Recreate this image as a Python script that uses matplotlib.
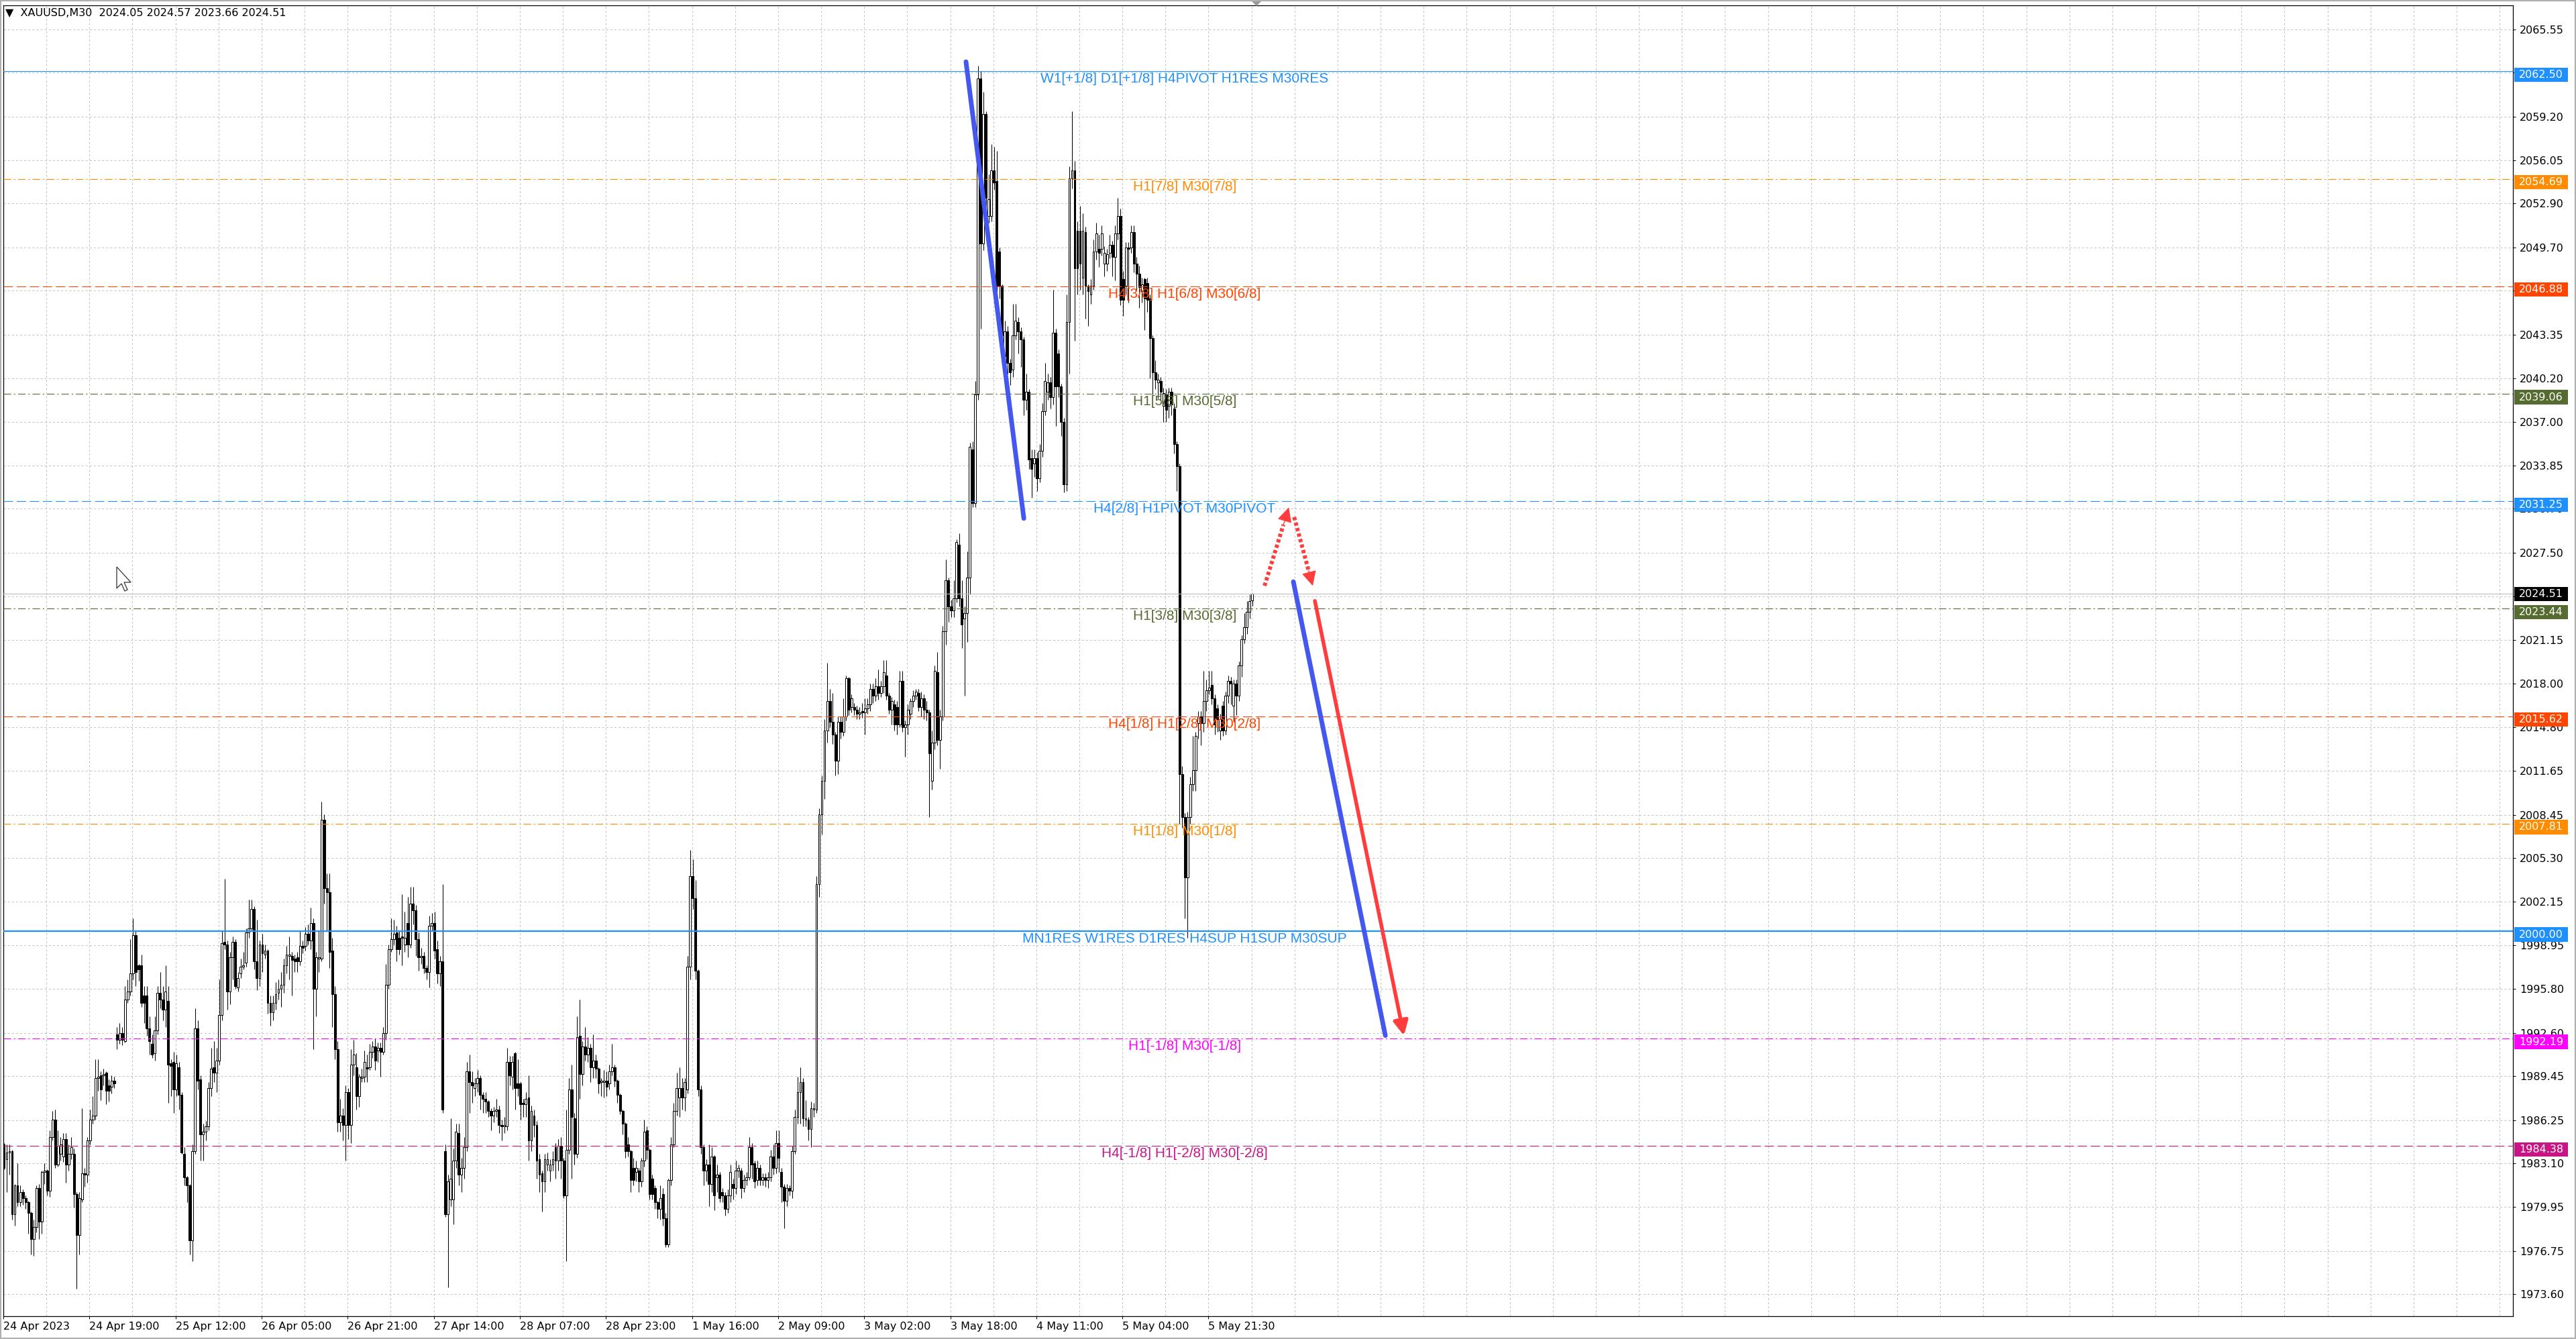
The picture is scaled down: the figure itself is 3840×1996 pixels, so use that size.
import numpy as np
import matplotlib
matplotlib.use('Agg')
import matplotlib.pyplot as plt
import matplotlib.transforms as mtransforms
from matplotlib.patches import Rectangle, Polygon

plt.rcParams['lines.scale_dashes'] = False

# ---- XAUUSD M30 candles ----
opens = [
    1984.5, 1983.4, 1983.9, 1984.0, 1979.4, 1981.5, 1980.3, 1981.0, 1980.6, 1980.3,
    1979.5, 1977.6, 1978.5, 1981.3, 1978.9, 1982.5, 1982.6, 1981.1, 1985.0, 1986.3,
    1983.0, 1983.8, 1983.6, 1984.9, 1983.0, 1983.8, 1983.8, 1980.9, 1977.9, 1980.5,
    1982.4, 1982.3, 1984.8, 1986.3, 1986.6, 1989.3, 1989.5, 1989.5, 1989.7, 1988.8,
    1988.7, 1989.1, 1992.5, 1992.1, 1992.6, 1992.0, 1995.0, 1995.6, 1996.9, 1999.7,
    1997.5, 1997.5, 1995.3, 1995.3, 1992.9, 1991.8, 1991.1, 1992.8, 1995.5, 1995.0,
    1994.3, 1994.9, 1990.4, 1990.5, 1988.5, 1990.1, 1988.1, 1983.8, 1982.1, 1981.5,
    1977.5, 1984.0, 1992.9, 1989.2, 1985.2, 1985.4, 1985.8, 1988.6, 1990.1, 1989.7,
    1990.6, 1993.9, 1999.2, 1999.0, 1995.6, 1998.1, 1999.2, 1995.9, 1996.9, 1997.4,
    1997.7, 1999.9, 2000.2, 2001.6, 1997.8, 1996.6, 1999.0, 1998.3, 1998.6, 1994.8,
    1994.1, 1994.8, 1995.5, 1995.8, 1996.1, 1997.5, 1998.2, 1998.2, 1998.0, 1998.1,
    1997.8, 1998.9, 1998.9, 1999.8, 1999.3, 2000.6, 1995.8, 1998.0, 1998.0, 2008.1,
    2003.1, 2002.8, 1998.6, 1995.4, 1991.4, 1986.1, 1986.6, 1985.9, 1988.3, 1985.9,
    1990.3, 1990.1, 1988.0, 1989.3, 1989.4, 1990.1, 1990.1, 1991.2, 1991.6, 1991.3,
    1991.5, 1991.2, 1992.6, 1996.1, 1998.7, 1999.4, 1999.9, 1999.5, 1999.6, 1999.0,
    2000.6, 1999.0, 2002.0, 2001.5, 1999.4, 1998.1, 1998.2, 1997.3, 1997.0, 2000.4,
    2000.6, 1998.7, 1996.9, 1997.8, 1984.0, 1979.4, 1980.5, 1980.5, 1983.3, 1985.3,
    1982.3, 1982.8, 1984.3, 1989.8, 1989.0, 1988.6, 1988.9, 1989.3, 1988.1, 1987.8,
    1987.6, 1986.9, 1986.6, 1986.9, 1987.0, 1985.9, 1985.8, 1985.8, 1990.5, 1989.4,
    1991.1, 1988.9, 1988.9, 1987.5, 1987.4, 1987.9, 1984.8, 1986.6, 1985.9, 1983.4,
    1982.4, 1981.8, 1983.0, 1982.6, 1983.0, 1984.3, 1983.3, 1984.4, 1983.3, 1980.8,
    1984.1, 1988.5, 1986.4, 1983.8, 1992.4, 1989.6, 1991.6, 1991.0, 1991.5, 1990.1,
    1990.6, 1990.0, 1989.0, 1989.0, 1989.1, 1988.9, 1989.8, 1990.1, 1989.1, 1988.1,
    1986.9, 1986.0, 1984.5, 1984.0, 1982.8, 1982.5, 1982.6, 1981.8, 1983.3, 1985.5,
    1984.1, 1982.0, 1981.3, 1980.3, 1979.8, 1980.9, 1979.1, 1977.2, 1981.9, 1984.5,
    1986.9, 1987.9, 1988.6, 1987.9, 1988.5, 1997.4, 2004.0, 2002.4, 1997.1, 1988.5,
    1984.3, 1982.6, 1983.0, 1981.6, 1983.6, 1982.1, 1982.3, 1981.0, 1980.8, 1979.8,
    1980.8, 1981.6, 1981.3, 1982.6, 1982.6, 1981.3, 1981.9, 1982.1, 1984.3, 1983.1,
    1981.9, 1982.8, 1981.9, 1982.1, 1981.9, 1982.1, 1983.6, 1982.8, 1984.6, 1982.5,
    1981.4, 1980.4, 1981.3, 1981.1, 1984.0, 1986.5, 1988.3, 1989.0, 1986.3, 1986.3,
    1985.6, 1987.0, 1987.0, 2003.4, 2008.5, 2010.9, 2014.6, 2016.7, 2015.2, 2014.3,
    2012.4, 2015.2, 2014.5, 2015.6, 2018.4, 2016.3, 2016.3, 2016.1, 2015.8, 2016.0,
    2015.9, 2016.2, 2016.5, 2017.6, 2017.1, 2017.8, 2017.3, 2017.8, 2018.6, 2017.1,
    2016.1, 2016.5, 2016.3, 2015.0, 2018.2, 2014.8, 2015.0, 2015.8, 2016.7, 2017.1,
    2017.3, 2016.3, 2016.9, 2016.1, 2015.9, 2010.9, 2013.7, 2018.8, 2013.9, 2015.6,
    2021.8, 2025.5, 2023.6, 2023.3, 2024.2, 2028.1, 2024.2, 2022.7, 2023.1, 2025.7,
    2035.0, 2031.1, 2039.0, 2062.0, 2050.0, 2059.4, 2052.0, 2052.0, 2055.3, 2054.5,
    2049.4, 2046.9, 2041.8, 2043.6, 2041.3, 2040.8, 2043.3, 2044.3, 2043.6, 2043.0,
    2038.6, 2039.2, 2034.4, 2034.0, 2034.4, 2032.9, 2034.9, 2037.8, 2039.2, 2039.9,
    2038.8, 2043.5, 2042.0, 2039.6, 2037.0, 2032.5, 2044.3, 2054.7, 2055.3, 2050.9,
    2050.9, 2047.5, 2050.8, 2046.9, 2046.3, 2046.9, 2049.4,
    2049.6, 2049.6, 2048.5, 2048.5, 2049.3, 2049.9, 2049.0, 2050.7, 2052.0,
    2047.4, 2046.9, 2049.7, 2049.7, 2050.8, 2048.5, 2047.8, 2046.5, 2047.4, 2047.1,
    2046.0, 2043.1, 2040.6, 2039.9, 2040.0, 2038.2, 2039.0, 2038.2, 2039.2, 2038.0,
    2035.4, 2033.8, 2011.4, 2008.3, 2003.9, 2008.3, 2010.7, 2011.7, 2015.1, 2015.6,
    2015.1, 2016.7, 2017.5, 2017.9, 2016.9, 2016.2, 2014.6, 2016.4, 2014.6, 2017.1,
    2018.2, 2016.4, 2018.0, 2017.1, 2019.3, 2021.2, 2022.1, 2023.2, 2024.05,
]
highs = [
    1984.6, 1984.5, 1984.5, 1984.1, 1981.6, 1983.1, 1981.5, 1981.2, 1980.8, 1980.4,
    1979.6, 1979.0, 1981.5, 1981.6, 1982.6, 1983.1, 1982.7, 1985.5, 1986.9, 1987.0,
    1985.5, 1985.0, 1985.3, 1985.3, 1984.5, 1985.0, 1984.2, 1981.0, 1981.0, 1987.1,
    1982.8, 1985.0, 1987.0, 1988.0, 1990.7, 1990.7, 1989.8, 1990.0, 1989.8, 1989.2,
    1989.5, 1989.4, 1993.0, 1993.3, 1993.0, 1996.0, 1996.5, 1999.4, 2000.9, 2000.0,
    1997.6, 1998.3, 1996.0, 1996.0, 1993.8, 1992.5, 1993.8, 1996.0, 1997.0, 1996.0,
    1997.5, 1996.0, 1990.7, 1991.2, 1991.0, 1990.5, 1988.3, 1984.3, 1982.2, 1981.6,
    1984.5, 1994.4, 1993.5, 1989.5, 1986.0, 1986.2, 1989.0, 1991.5, 1992.0, 1991.5,
    1996.5, 2000.0, 2003.8, 1999.3, 1998.5, 1999.6, 1999.4, 1997.0, 1998.0, 1998.5,
    2000.2, 2002.3, 2002.3, 2001.8, 2000.8, 1999.3, 1999.8, 1999.0, 1998.7, 1995.3,
    1995.3, 1996.3, 1996.5, 1997.0, 1998.0, 1998.9, 1999.6, 1998.5, 1998.3, 1998.5,
    2000.0, 1999.3, 2000.3, 2000.5, 2001.7, 2000.9, 1998.5, 2000.0, 2009.4, 2008.5,
    2004.2, 2004.2, 1999.5, 1996.0, 1992.0, 1987.8, 1987.1, 1988.8, 1988.6, 1991.4,
    1992.1, 1991.1, 1989.6, 1990.0, 1991.3, 1991.0, 1991.8, 1992.0, 1992.2, 1991.9,
    1991.9, 1993.0, 1997.6, 1999.0, 2000.9, 2000.8, 2000.4, 2000.0, 2002.7, 2001.4,
    2002.5, 2003.2, 2003.2, 2001.9, 1999.9, 1998.8, 1998.5, 1997.5, 2001.1, 2001.3,
    2001.4, 1999.3, 1998.2, 2003.4, 1984.5, 1982.3, 1986.4, 1984.2, 1986.0, 1986.0,
    1983.5, 1985.0, 1990.5, 1991.0, 1989.8, 1989.3, 1989.9, 1989.5, 1988.3, 1988.3,
    1987.7, 1987.1, 1987.2, 1987.8, 1987.3, 1986.3, 1986.5, 1991.5, 1990.9, 1990.9,
    1991.2, 1990.7, 1989.0, 1987.8, 1988.3, 1989.5, 1987.3, 1987.0, 1986.2, 1983.8,
    1982.6, 1983.8, 1983.9, 1983.4, 1984.0, 1984.6, 1984.9, 1985.0, 1983.5, 1987.0,
    1989.3, 1990.3, 1986.8, 1993.8, 1995.0, 1992.0, 1993.0, 1992.3, 1991.8, 1992.5,
    1991.0, 1990.1, 1989.3, 1989.9, 1989.8, 1990.3, 1991.8, 1990.3, 1989.2, 1988.2,
    1987.0, 1986.1, 1985.0, 1984.1, 1983.5, 1983.3, 1982.8, 1983.5, 1986.3, 1985.8,
    1984.2, 1982.3, 1981.5, 1980.4, 1981.5, 1981.3, 1979.5, 1982.0, 1985.0, 1987.5,
    1989.7, 1990.1, 1989.3, 1989.3, 1998.2, 2005.9, 2005.2, 2003.7, 1997.2, 1988.8,
    1984.5, 1983.4, 1984.5, 1984.3, 1983.7, 1983.0, 1982.5, 1981.3, 1981.0, 1981.2,
    1983.0, 1982.0, 1983.3, 1983.0, 1982.8, 1982.3, 1982.5, 1985.0, 1984.6, 1983.3,
    1983.3, 1983.0, 1982.4, 1982.4, 1982.5, 1984.1, 1984.5, 1985.5, 1985.5, 1982.8,
    1981.6, 1981.6, 1981.5, 1984.4, 1987.0, 1989.4, 1990.1, 1989.3, 1987.7, 1986.5,
    1987.6, 1987.5, 2004.0, 2008.9, 2011.3, 2015.4, 2019.5, 2017.6, 2017.3, 2014.5,
    2015.6, 2015.6, 2016.9, 2018.6, 2018.5, 2017.2, 2016.6, 2016.4, 2016.3, 2016.6,
    2016.9, 2016.9, 2018.0, 2018.0, 2018.4, 2019.0, 2018.2, 2019.7, 2019.7, 2017.3,
    2017.0, 2016.8, 2016.7, 2018.9, 2018.9, 2015.3, 2016.5, 2016.9, 2017.5, 2017.6,
    2017.6, 2017.4, 2017.2, 2016.7, 2016.1, 2014.6, 2019.3, 2020.3, 2016.1, 2022.2,
    2027.0, 2025.7, 2024.1, 2025.5, 2028.5, 2028.9, 2025.5, 2023.6, 2027.6, 2035.5,
    2035.6, 2040.0, 2062.9, 2062.5, 2061.0, 2059.6, 2055.0, 2057.2, 2057.0, 2056.7,
    2049.7, 2047.0, 2044.4, 2044.0, 2041.6, 2045.6, 2045.6, 2044.6, 2043.9, 2043.2,
    2040.5, 2039.4, 2035.0, 2035.0, 2034.8, 2035.4, 2038.4, 2041.3, 2040.5, 2040.3,
    2046.6, 2043.8, 2042.3, 2039.8, 2037.3, 2046.3, 2055.6, 2059.6, 2056.0, 2051.6,
    2052.7, 2052.2, 2051.2, 2047.0, 2047.4, 2050.3, 2051.5,
    2050.6, 2051.3, 2049.8, 2049.6, 2050.6, 2050.2, 2051.3, 2053.3, 2052.5,
    2048.0, 2050.1, 2050.1, 2051.3, 2051.3, 2049.0, 2048.4, 2047.5, 2047.5, 2047.5,
    2046.3, 2043.3, 2041.5, 2040.5, 2040.3, 2039.5, 2039.4, 2039.5, 2039.5, 2038.4,
    2035.6, 2034.0, 2012.0, 2008.6, 2008.7, 2011.2, 2014.2, 2014.5, 2016.0, 2016.0,
    2018.9, 2018.3, 2018.9, 2018.9, 2017.2, 2016.5, 2015.8, 2016.7, 2017.4, 2018.6,
    2018.5, 2018.3, 2018.3, 2019.6, 2021.5, 2023.1, 2024.0, 2024.5, 2024.57,
]
lows = [
    1982.7, 1981.0, 1982.3, 1979.0, 1978.6, 1980.0, 1980.0, 1980.1, 1979.8, 1978.0,
    1976.5, 1976.4, 1978.1, 1977.6, 1978.0, 1981.6, 1980.8, 1980.7, 1984.8, 1982.8,
    1982.9, 1983.3, 1983.2, 1981.7, 1982.6, 1983.4, 1979.9, 1974.0, 1976.5, 1980.3,
    1981.4, 1981.7, 1984.5, 1986.0, 1986.3, 1988.4, 1987.7, 1988.8, 1987.4, 1987.6,
    1988.2, 1988.6, 1991.4, 1991.8, 1991.7, 1991.9, 1994.8, 1995.3, 1996.5, 1996.0,
    1996.4, 1994.5, 1993.3, 1992.4, 1991.0, 1990.8, 1990.6, 1992.5, 1994.4, 1993.5,
    1993.0, 1987.5, 1988.0, 1986.8, 1988.0, 1987.0, 1983.8, 1981.5, 1980.3, 1976.5,
    1976.0, 1983.8, 1988.5, 1983.3, 1983.3, 1984.8, 1985.5, 1988.0, 1989.0, 1988.3,
    1990.3, 1993.5, 1998.7, 1994.3, 1994.7, 1996.5, 1995.8, 1995.6, 1996.6, 1997.2,
    1997.4, 1999.5, 2000.0, 1997.2, 1995.7, 1996.0, 1997.0, 1998.0, 1994.0, 1993.1,
    1993.5, 1994.3, 1995.0, 1994.5, 1995.5, 1996.9, 1996.5, 1995.3, 1997.0, 1997.0,
    1997.5, 1998.4, 1998.6, 1999.0, 1998.7, 1991.4, 1993.8, 1997.0, 1997.8, 2002.0,
    2000.0, 1997.3, 1993.0, 1990.7, 1985.4, 1985.4, 1984.8, 1983.3, 1984.9, 1984.6,
    1989.5, 1987.0, 1987.2, 1989.0, 1989.0, 1989.0, 1989.9, 1990.8, 1989.9, 1990.5,
    1989.4, 1991.0, 1992.1, 1995.8, 1998.5, 1999.0, 1997.8, 1998.3, 1997.5, 1998.5,
    1998.1, 1998.8, 2000.5, 1998.2, 1997.1, 1997.6, 1996.9, 1996.5, 1995.9, 2000.0,
    1998.0, 1996.2, 1996.0, 1986.8, 1979.2, 1974.1, 1980.0, 1978.7, 1982.8, 1981.5,
    1981.0, 1982.0, 1984.0, 1986.8, 1987.5, 1988.0, 1988.3, 1987.0, 1986.8, 1986.8,
    1986.5, 1985.5, 1986.1, 1986.5, 1985.3, 1984.8, 1985.3, 1985.5, 1988.8, 1988.5,
    1987.0, 1988.0, 1986.3, 1986.5, 1986.5, 1983.3, 1984.0, 1985.0, 1982.0, 1981.0,
    1979.6, 1981.0, 1982.6, 1981.8, 1982.6, 1982.0, 1982.6, 1982.0, 1980.6, 1976.0,
    1983.8, 1982.0, 1983.0, 1983.5, 1987.8, 1988.8, 1990.6, 1990.5, 1989.0, 1989.3,
    1989.3, 1988.2, 1988.0, 1987.9, 1988.0, 1988.5, 1989.5, 1988.7, 1987.5, 1986.7,
    1985.2, 1983.5, 1983.6, 1981.0, 1981.5, 1981.8, 1981.0, 1981.4, 1982.9, 1983.4,
    1980.5, 1980.5, 1979.8, 1979.1, 1979.0, 1978.6, 1977.0, 1977.0, 1981.5, 1984.3,
    1986.6, 1986.5, 1987.0, 1986.9, 1988.2, 1996.5, 2001.6, 1996.5, 1988.0, 1983.8,
    1981.5, 1981.8, 1980.0, 1981.0, 1979.7, 1981.0, 1980.3, 1980.3, 1979.3, 1979.5,
    1980.3, 1980.5, 1980.9, 1982.1, 1980.6, 1981.0, 1981.5, 1981.9, 1982.0, 1981.3,
    1981.5, 1981.5, 1981.5, 1981.4, 1981.3, 1981.8, 1982.3, 1982.4, 1982.5, 1980.3,
    1978.4, 1980.0, 1980.8, 1980.6, 1983.8, 1986.0, 1986.0, 1985.8, 1985.8, 1984.8,
    1984.3, 1986.5, 1986.8, 2002.5, 2007.0, 2009.6, 2013.7, 2014.8, 2013.6, 2011.3,
    2011.4, 2014.0, 2014.2, 2015.3, 2015.7, 2015.9, 2015.7, 2015.4, 2015.4, 2015.5,
    2014.3, 2015.8, 2016.0, 2016.6, 2016.7, 2016.8, 2017.0, 2017.3, 2016.8, 2015.8,
    2015.0, 2014.6, 2014.3, 2014.8, 2014.5, 2012.7, 2014.3, 2015.4, 2016.3, 2016.8,
    2016.0, 2015.6, 2015.4, 2015.3, 2008.3, 2010.3, 2013.2, 2013.5, 2011.8, 2015.3,
    2020.8, 2022.5, 2022.8, 2022.8, 2023.9, 2023.6, 2020.6, 2017.1, 2021.0, 2024.5,
    2030.8, 2030.8, 2038.6, 2043.8, 2049.5, 2052.3, 2051.5, 2051.6, 2053.9, 2046.3,
    2046.0, 2042.5, 2041.5, 2040.5, 2039.7, 2040.3, 2043.0, 2042.0, 2041.0, 2037.5,
    2037.9, 2033.6, 2031.5, 2033.0, 2032.0, 2032.6, 2034.5, 2037.5, 2038.6, 2038.0,
    2038.3, 2036.7, 2038.8, 2036.0, 2031.9, 2032.0, 2040.5, 2054.0, 2042.9, 2046.3,
    2046.6, 2046.3, 2044.5, 2044.0, 2045.6, 2046.6, 2048.8,
    2048.3, 2049.1, 2047.6, 2048.0, 2048.9, 2047.6, 2047.3, 2050.3, 2045.5,
    2044.7, 2046.3, 2045.7, 2049.3, 2047.9, 2046.6, 2045.3, 2045.7, 2043.7, 2045.0,
    2040.2, 2039.0, 2039.4, 2038.7, 2038.6, 2037.0, 2037.0, 2037.3, 2037.5, 2034.7,
    2032.0, 2007.8, 2007.5, 2000.9, 1999.5, 2007.8, 2010.2, 2010.2, 2014.0, 2013.5,
    2014.5, 2016.0, 2017.2, 2016.5, 2014.3, 2014.5, 2013.9, 2014.2, 2014.3, 2016.6,
    2016.5, 2015.2, 2015.7, 2016.7, 2018.5, 2020.9, 2021.6, 2022.7, 2023.66,
]
closes = [
    1982.8, 1983.9, 1984.0, 1979.4, 1981.5, 1980.3, 1981.0, 1980.6, 1980.3, 1979.5,
    1977.6, 1978.5, 1981.3, 1978.9, 1982.5, 1982.6, 1981.1, 1985.0, 1986.3, 1983.0,
    1984.4, 1984.5, 1984.9, 1983.0, 1983.8, 1984.3, 1980.9, 1977.9, 1980.6, 1982.4,
    1982.3, 1984.8, 1986.3, 1986.6, 1989.3, 1989.4, 1988.5, 1989.6, 1988.4, 1988.4,
    1989.1, 1988.9, 1992.1, 1992.6, 1992.1, 1995.0, 1995.6, 1996.9, 1999.7, 1997.0,
    1997.2, 1994.8, 1994.8, 1992.9, 1992.0, 1991.0, 1992.8, 1995.5, 1995.0, 1994.3,
    1995.6, 1990.3, 1990.2, 1988.5, 1990.4, 1988.1, 1983.9, 1982.1, 1981.5, 1977.5,
    1984.0, 1992.9, 1989.1, 1985.2, 1985.4, 1985.8, 1988.6, 1990.0, 1989.7, 1990.6,
    1993.9, 1999.1, 1999.0, 1995.6, 1998.1, 1999.2, 1996.0, 1996.6, 1997.4, 1997.5,
    1999.9, 2000.2, 2001.6, 1997.8, 1996.6, 1999.0, 1998.4, 1998.6, 1994.8, 1994.1,
    1994.8, 1995.4, 1995.8, 1996.1, 1997.5, 1998.3, 1998.3, 1997.9, 1997.8, 1997.8,
    1998.9, 1998.8, 1999.8, 1999.3, 2000.6, 1995.8, 1998.1, 1998.1, 2008.1, 2003.1,
    2002.8, 1998.5, 1995.4, 1991.4, 1986.1, 1986.6, 1985.9, 1988.3, 1985.9, 1990.3,
    1991.0, 1988.0, 1989.4, 1989.4, 1990.5, 1990.0, 1991.2, 1991.6, 1990.6, 1991.5,
    1991.2, 1992.6, 1996.1, 1998.7, 1999.4, 1999.8, 1998.7, 1998.7, 1999.5, 1999.5,
    1999.0, 2002.0, 2001.5, 1999.4, 1998.1, 1998.2, 1997.3, 1997.0, 2000.4, 2000.6,
    1998.6, 1996.9, 1997.8, 1987.0, 1979.4, 1981.8, 1982.0, 1983.3, 1985.4, 1982.3,
    1982.8, 1984.3, 1989.8, 1989.0, 1988.8, 1988.9, 1989.3, 1988.1, 1987.8, 1987.6,
    1986.9, 1986.6, 1986.9, 1987.0, 1985.9, 1985.8, 1985.9, 1990.5, 1989.5, 1990.5,
    1988.6, 1988.6, 1987.4, 1987.4, 1987.8, 1984.8, 1986.9, 1985.9, 1983.3, 1982.3,
    1981.8, 1983.4, 1983.4, 1983.0, 1983.4, 1983.3, 1984.4, 1983.3, 1980.8, 1984.1,
    1988.5, 1986.5, 1983.8, 1992.3, 1989.6, 1991.6, 1991.0, 1991.5, 1990.1, 1990.6,
    1990.0, 1988.9, 1989.1, 1989.1, 1988.7, 1989.8, 1990.1, 1989.1, 1988.1, 1986.9,
    1986.0, 1984.0, 1984.0, 1981.9, 1981.9, 1982.8, 1981.8, 1983.3, 1985.4, 1984.1,
    1980.9, 1980.9, 1980.3, 1979.8, 1980.6, 1979.1, 1977.2, 1981.9, 1984.5, 1986.9,
    1988.6, 1988.6, 1987.9, 1989.0, 1997.4, 2004.0, 2002.4, 1997.1, 1988.5, 1984.3,
    1982.6, 1983.0, 1981.6, 1983.6, 1980.8, 1982.3, 1980.6, 1980.8, 1979.8, 1980.8,
    1982.5, 1981.3, 1982.6, 1982.8, 1981.3, 1981.9, 1982.1, 1984.3, 1983.0, 1981.8,
    1982.8, 1981.9, 1982.1, 1981.9, 1982.1, 1983.6, 1982.8, 1984.6, 1983.5, 1981.4,
    1980.4, 1981.3, 1981.1, 1984.0, 1986.5, 1988.3, 1989.0, 1986.4, 1986.4, 1985.6,
    1987.1, 1987.1, 2003.4, 2008.5, 2010.9, 2014.6, 2016.7, 2015.2, 2014.3, 2012.4,
    2015.2, 2014.5, 2015.6, 2018.4, 2016.1, 2016.9, 2016.1, 2015.8, 2015.9, 2015.9,
    2016.2, 2016.5, 2017.6, 2017.1, 2017.8, 2017.3, 2017.8, 2018.8, 2017.1, 2016.1,
    2016.7, 2015.0, 2015.0, 2018.2, 2014.8, 2015.0, 2016.1, 2016.7, 2017.1, 2017.4,
    2016.3, 2016.9, 2016.1, 2015.9, 2012.9, 2013.7, 2018.9, 2013.9, 2015.6, 2021.8,
    2025.5, 2023.6, 2023.3, 2024.2, 2028.3, 2024.2, 2022.3, 2023.1, 2025.7, 2035.2,
    2031.1, 2039.0, 2062.0, 2050.0, 2059.4, 2053.3, 2053.2, 2055.3, 2054.4, 2046.9,
    2046.9, 2043.3, 2043.6, 2041.3, 2040.6, 2043.3, 2044.4, 2043.6, 2043.0, 2038.6,
    2039.2, 2034.3, 2033.6, 2034.4, 2032.9, 2034.9, 2037.8, 2040.0, 2039.9, 2038.8,
    2043.5, 2039.6, 2039.6, 2037.0, 2032.5, 2044.3, 2054.7, 2055.3, 2048.2, 2048.2,
    2048.5, 2050.9, 2046.9, 2046.5, 2046.9, 2049.4, 2050.7,
    2049.3, 2050.7, 2049.3, 2049.2, 2049.9, 2049.0, 2050.7, 2052.0, 2045.9,
    2045.9, 2049.7, 2049.6, 2050.8, 2048.5, 2047.8, 2046.8, 2047.0, 2046.0, 2045.9,
    2043.1, 2040.6, 2040.1, 2040.1, 2039.2, 2039.1, 2037.9, 2039.2, 2038.3, 2035.4,
    2033.8, 2011.4, 2008.3, 2003.9, 2008.3, 2010.7, 2011.7, 2014.2, 2015.6, 2015.1,
    2016.7, 2017.5, 2017.7, 2016.9, 2015.0, 2015.4, 2015.4, 2014.6, 2017.1, 2018.2,
    2018.0, 2018.0, 2017.1, 2019.3, 2021.2, 2022.1, 2023.2, 2024.0, 2024.51,
]

# ---- price axis & time axis ----
price_ticks = [2065.55, 2062.40, 2059.20, 2056.05, 2052.90, 2049.70, 2046.55, 2043.35,
               2040.20, 2037.00, 2033.85, 2030.70, 2027.50, 2024.35, 2021.15, 2018.00,
               2014.80, 2011.65, 2008.45, 2005.30, 2002.15, 1998.95, 1995.80, 1992.60,
               1989.45, 1986.25, 1983.10, 1979.95, 1976.75, 1973.60]
time_labels = ['24 Apr 2023', '24 Apr 19:00', '25 Apr 12:00', '26 Apr 05:00', '26 Apr 21:00',
               '27 Apr 14:00', '28 Apr 07:00', '28 Apr 23:00', '1 May 16:00', '2 May 09:00',
               '3 May 02:00', '3 May 18:00', '4 May 11:00', '5 May 04:00', '5 May 21:30']
bars_per_label = 32

# ---- Murrey math levels ----
level_prices = [2062.50, 2054.69, 2046.88, 2039.06, 2031.25, 2023.44, 2015.62,
                2007.81, 2000.00, 1992.19, 1984.38]
level_texts = ['W1[+1/8] D1[+1/8] H4PIVOT H1RES M30RES', 'H1[7/8] M30[7/8]',
               'H4[3/8] H1[6/8] M30[6/8]', 'H1[5/8] M30[5/8]', 'H4[2/8] H1PIVOT M30PIVOT',
               'H1[3/8] M30[3/8]', 'H4[1/8] H1[2/8] M30[2/8]', 'H1[1/8] M30[1/8]',
               'MN1RES W1RES D1RES H4SUP H1SUP M30SUP', 'H1[-1/8] M30[-1/8]',
               'H4[-1/8] H1[-2/8] M30[-2/8]']
level_colors = ['#1E90FF', '#FF8C00', '#FF4500', '#556B2F', '#1E90FF', '#556B2F',
                '#FF4500', '#FF8C00', '#1E90FF', '#FF00FF', '#C71585']
level_styles = ['solid', 'dashdot', 'dash', 'dashdot', 'dash', 'dashdot', 'dash',
                'dashdot', 'solid', 'dashdot', 'dash']
level_widths = [0.8, 0.8, 0.8, 0.8, 0.8, 0.8, 0.8, 0.8, 1.6, 0.8, 0.8]
bid = 2024.51

# ---- drawn forecast (bar index, price) ----
blue_down_1 = [(357.6, 2063.2), (379.1, 2030.0)]
blue_down_2 = [(479.3, 2025.4), (513.5, 1992.4)]
red_down = [(487.3, 2024.0), (520.4, 1992.4)]
red_dot_up = [(468.6, 2025.1), (477.6, 2030.8)]
red_dot_down = [(479.6, 2030.1), (486.5, 2025.1)]
label_bar = 438.9

W, H = 3840, 1996
fig = plt.figure(figsize=(W / 100, H / 100), dpi=100)
fig.patch.set_facecolor('white')
ax = fig.add_axes([5 / W, 1 - 1962 / H, 3741 / W, 1954 / H])
ax.set_facecolor('white')

px_bar = 4.01
ax.set_xlim(-0.25, -0.25 + 3741 / px_bar)
ax.set_ylim(1972.0, 2067.3)

# grid / ticks
major = [-0.25 + bars_per_label * k for k in range(len(time_labels))]
minor = np.arange(-0.25, 3741 / px_bar, bars_per_label / 2)
ax.set_xticks(minor, minor=True)
ax.set_xticks(major)
ax.set_xticklabels(time_labels, fontsize=11.5, family='DejaVu Sans')
for t in ax.get_xticklabels():
    t.set_ha('left')
ax.set_yticks(price_ticks)
ax.set_yticklabels(['%.2f' % p for p in price_ticks], fontsize=11.5, family='DejaVu Sans')
ax.yaxis.tick_right()
ax.tick_params(axis='y', length=3, width=0.75, pad=4.3, direction='out')
ax.tick_params(axis='x', which='major', length=3, width=0.75, pad=2.5, direction='out')
ax.tick_params(axis='x', which='minor', length=0)
ax.grid(True, which='both', color='#c4c4c4', lw=0.75, ls=(0, (2.2, 2.2)))
ax.set_axisbelow(True)
for s in ax.spines.values():
    s.set_color('black')
    s.set_linewidth(0.9)

# candles
o = np.array(opens); h = np.array(highs); l = np.array(lows); c = np.array(closes)
x = np.arange(len(o))
top = np.maximum(h, np.maximum(o, c))
bot = np.minimum(l, np.minimum(o, c))
ax.vlines(x, bot, top, color='black', lw=0.75, zorder=3)
body_lo = np.minimum(o, c)
body_h = np.maximum(np.abs(c - o), 0.05)
fills = np.where(c >= o, 'white', 'black')
ax.bar(x, body_h, 0.72, bottom=body_lo, color=fills, edgecolor='black', linewidth=0.75, zorder=4)

# levels
dash_map = {'solid': '-', 'dash': (0, (10, 4)), 'dashdot': (0, (8, 3, 1.5, 3))}
ax.axhline(bid, color='#bdbdbd', lw=0.8, zorder=4.5)
for p, t, col, st, lw in zip(level_prices, level_texts, level_colors, level_styles, level_widths):
    ax.axhline(p, color=col, ls=dash_map[st], lw=lw, zorder=5)
    ax.text(label_bar, p - 0.1, t, color=col, ha='center', va='top', fontsize=15,
            family='Liberation Sans', zorder=6)

# price tags on the right scale (level tags sit a few px below their line, bid tag centred)
tr = mtransforms.blended_transform_factory(ax.transAxes, ax.transData)
tag_x = (3748 - 5) / 3741
tag_w = 80 / 3741
txt_x = (3755 - 5) / 3741
tags = [(p, col, 0.25) for p, col in zip(level_prices, level_colors)] + [(bid, 'black', 0.0)]
for p, col, off in tags:
    yc = p - off
    ax.add_patch(Rectangle((tag_x, yc - 0.52), tag_w, 1.04, transform=tr, facecolor=col,
                           edgecolor='none', clip_on=False, zorder=10))
    ax.text(txt_x, yc, '%.2f' % p, transform=tr, color='white', ha='left', va='center',
            fontsize=11.5, family='DejaVu Sans', clip_on=False, zorder=11)

# forecast drawings
blue = '#4457EE'
red = '#FF3D3D'
for seg in (blue_down_1, blue_down_2):
    ax.plot([seg[0][0], seg[1][0]], [seg[0][1], seg[1][1]], color=blue, lw=5,
            solid_capstyle='round', zorder=7)
ax.annotate('', xy=red_down[1], xytext=red_down[0],
            arrowprops=dict(arrowstyle='-|>', color=red, lw=4, mutation_scale=32,
                            shrinkA=0, shrinkB=0), zorder=7)
for seg in (red_dot_up, red_dot_down):
    (x0, y0), (x1, y1) = seg
    xm, ym = x0 + (x1 - x0) * 0.78, y0 + (y1 - y0) * 0.78
    ax.plot([x0, xm], [y0, ym], color=red, lw=4.3, ls=(0, (3.5, 2.6)),
            dash_capstyle='butt', zorder=7)
    ax.annotate('', xy=(x1, y1), xytext=(xm, ym),
                arrowprops=dict(arrowstyle='-|>', color=red, lw=1, mutation_scale=34,
                                shrinkA=0, shrinkB=0), zorder=7)

# header text
fig.text(8 / W, 1 - 20 / H, '\u25bc  XAUUSD,M30  2024.05 2024.57 2023.66 2024.51',
         fontsize=11.5, family='DejaVu Sans', va='center', ha='left')

# chart shift marker and mouse cursor
def fpts(pts):
    return [(px / W, 1 - py / H) for px, py in pts]

fig.patches.append(Polygon(fpts([(1866, 2), (1880, 2), (1873, 9)]), closed=True,
                           transform=fig.transFigure, facecolor='#9a9a9a', edgecolor='none'))
cur = [(0, 0), (0, 32), (7, 25), (12, 36), (16, 34), (11, 23), (21, 23)]
fig.patches.append(Polygon(fpts([(174 + a, 845 + b) for a, b in cur]), closed=True,
                           transform=fig.transFigure, facecolor='white', edgecolor='#444444', lw=1))
fig.patches.append(Rectangle((0, 0), 1, 1, transform=fig.transFigure, fill=False,
                             edgecolor='#b0b0b0', lw=3))

fig.savefig('out.png', dpi=100, facecolor='white')
